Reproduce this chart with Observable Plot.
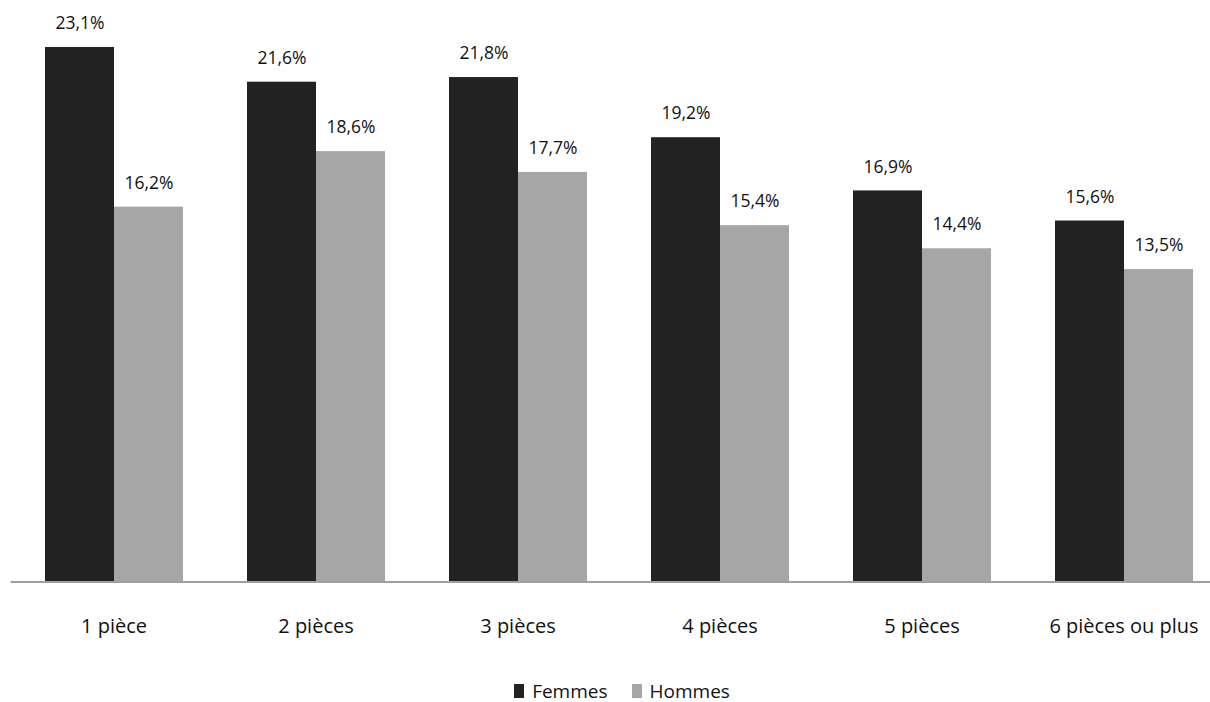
<!DOCTYPE html>
<html><head><meta charset="utf-8">
<script src="https://cdn.jsdelivr.net/npm/d3@7"></script>
<script src="https://cdn.jsdelivr.net/npm/@observablehq/plot@0.6"></script>
<style>
body{margin:0;background:#fff;font-family:"Open Sans",sans-serif;overflow:hidden;}
#chart svg{display:block;}
#legend{height:32px;display:flex;justify-content:center;align-items:center;padding-left:34px;font-size:19px;color:#111;line-height:20px;padding-top:9px;box-sizing:border-box;}
#legend span.sw{display:inline-block;width:10px;height:14px;margin-right:8px;}
#legend span.it{display:inline-flex;align-items:center;margin:0 12px;}
</style></head><body><div id="chart"></div><div id="legend"></div><script>
const categories = ["1 pièce","2 pièces","3 pièces","4 pièces","5 pièces","6 pièces ou plus"];
const series = ["Femmes","Hommes"];
const femmes = [23.1,21.6,21.8,19.2,16.9,15.6];
const hommes = [16.2,18.6,17.7,15.4,14.4,13.5];
const colors = ["#222222","#a6a6a6"];
const data = categories.flatMap((c,i)=>[{cat:c,sex:"Femmes",v:femmes[i]},{cat:c,sex:"Hommes",v:hommes[i]}]);
const fmt = v => v.toFixed(1).replace(".",",")+"%";
const plot = Plot.plot({
  width:1210, height:670, marginLeft:12, marginRight:0, marginTop:3, marginBottom:88.5,
  style:{fontFamily:'"Open Sans",sans-serif', background:"#fff", color:"#000"},
  fx:{domain:categories, range:[11.8,1226.2], paddingInner:0.31, paddingOuter:0.155, label:null},
  x:{domain:series, padding:0, axis:null},
  y:{domain:[0,25], axis:null},
  color:{domain:series, range:colors},
  marks:[
    Plot.barY(data,{fx:"cat", x:"sex", y:"v", fill:"sex"}),
    Plot.frame({anchor:"bottom", facet:"super", stroke:"#a0a0a0", strokeWidth:2, insetLeft:-33, insetRight:-16}),
    Plot.text(data,{fx:"cat", x:"sex", y:"v", text:d=>fmt(d.v), dy:-24, fontSize:17.5, fill:"#111"}),
    Plot.axisFx({tickSize:0, tickPadding:37, fontSize:20, label:null, anchor:"bottom", fill:"#111"})
  ]
});
document.getElementById("chart").appendChild(plot);
const lg = document.getElementById("legend");
series.forEach((s,i)=>{
  const it = document.createElement("span"); it.className="it";
  const sw = document.createElement("span"); sw.className="sw"; sw.style.background=colors[i];
  it.appendChild(sw); it.appendChild(document.createTextNode(s)); lg.appendChild(it);
});
</script></body></html>
